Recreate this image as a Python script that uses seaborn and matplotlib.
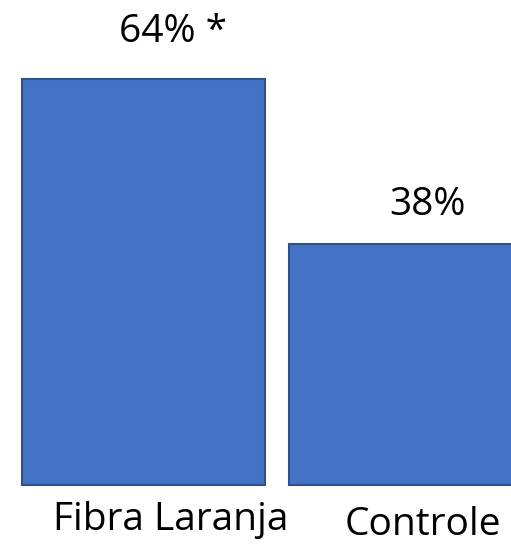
import matplotlib
matplotlib.use("Agg")
import matplotlib.pyplot as plt
import seaborn as sns

# Dados
grupos = ["Fibra Laranja", "Controle"]
valores = [64, 38]
rotulos = ["64% *", "38%"]

sns.set_theme(style="white")
plt.rcParams['font.family'] = ['Open Sans', 'DejaVu Sans']

fig = plt.figure(figsize=(5.11, 5.44), dpi=100)
ax = fig.add_axes([0, 0, 1, 1])

sns.barplot(x=grupos, y=valores, color="#4472C4", saturation=1, width=0.91,
            edgecolor="#2F528F", linewidth=1.5, ax=ax)

ax.set_xlim(-0.537, 1.376)
ax.set_ylim(-9.3, 76.5)
ax.axis("off")

# rótulos de valor e de categoria (ligeiramente deslocados, como no original)
desloc_x = [0.11, 1.062]
desloc_y = [5.9, 4.6]
for i, (v, r) in enumerate(zip(valores, rotulos)):
    ax.text(desloc_x[i], v + desloc_y[i], r, ha="center", va="baseline",
            fontsize=28, color="black")

cat_x = [0.103, 1.047]
cat_y = [-7.1, -7.9]
for x, y, g in zip(cat_x, cat_y, grupos):
    ax.text(x, y, g, ha="center", va="baseline", fontsize=28, color="black")

fig.savefig("out.png", dpi=100, facecolor="white")
